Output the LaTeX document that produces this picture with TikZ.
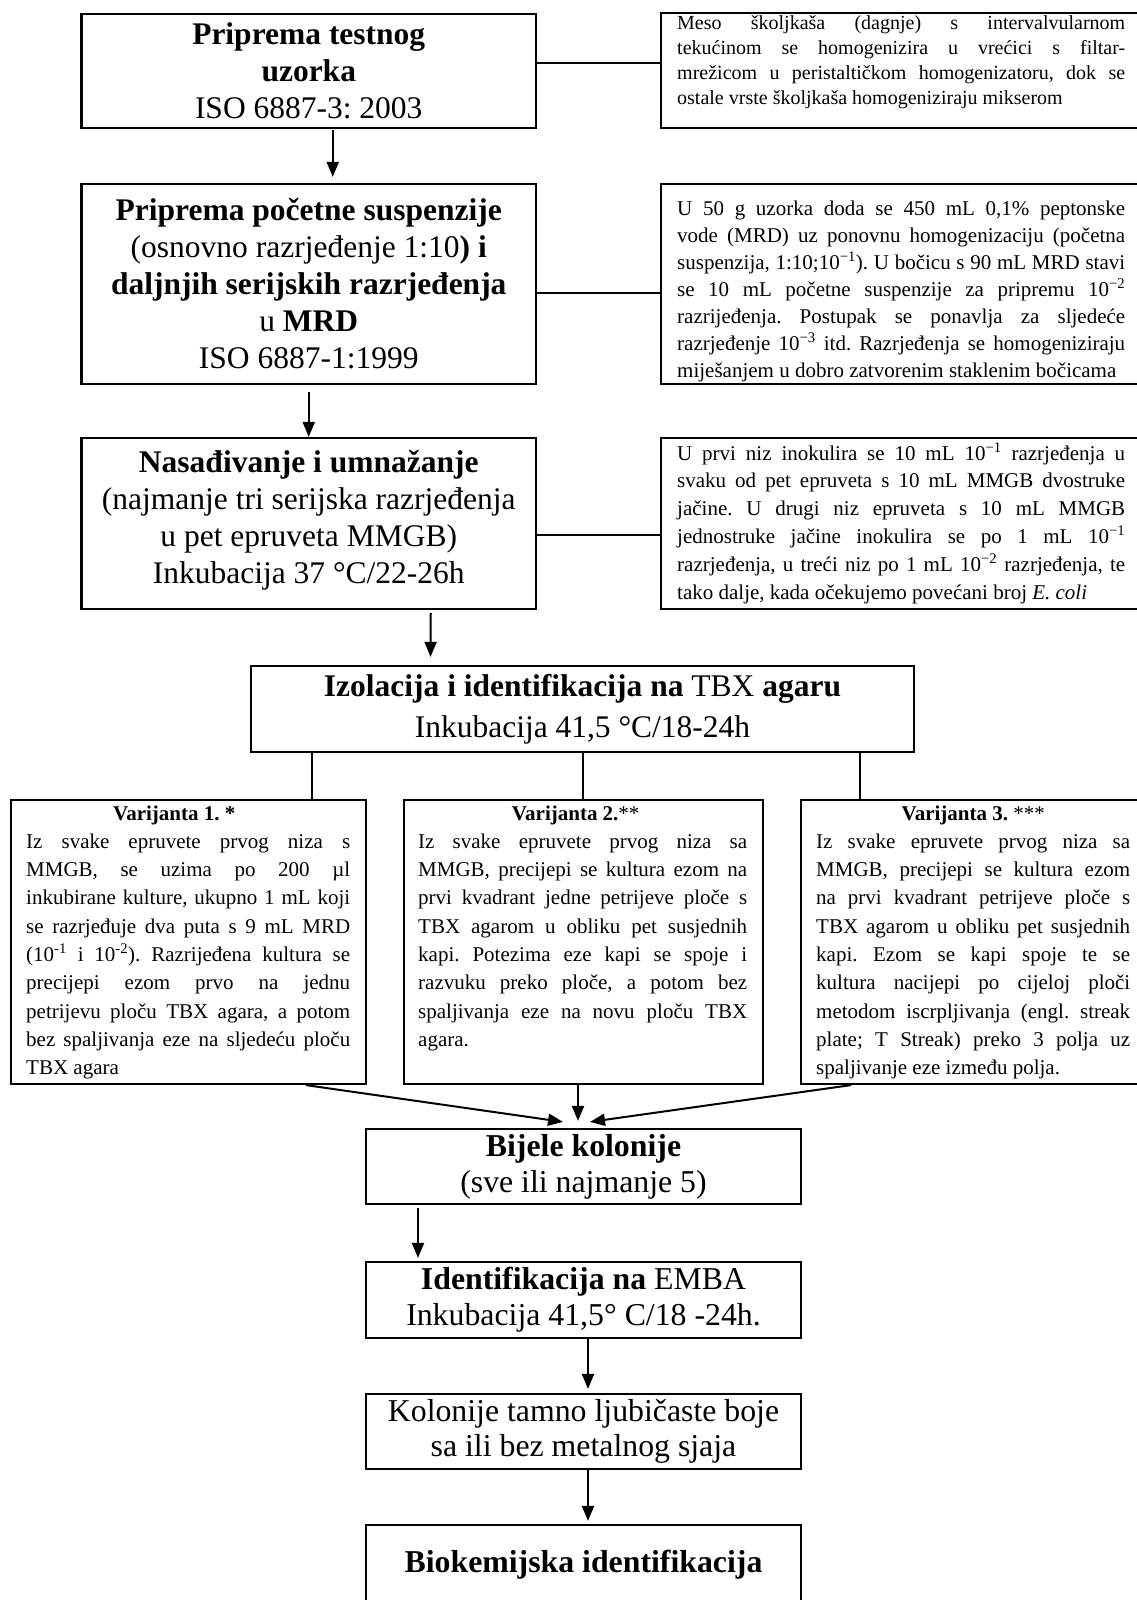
\documentclass[tikz,border=0pt]{standalone}
\usepackage{fontspec}
\setmainfont{Liberation Serif}
\usetikzlibrary{arrows.meta}
\frenchspacing
\newcommand\jl[1]{\hbox to\hsize{#1}}
\newcommand\jlast[1]{\hbox to\hsize{#1\hfil}}
\newcommand\jtitle[1]{\hbox to\hsize{\hfil#1\hfil}}
\newcommand\supm[1]{\textsuperscript{#1}}
\begin{document}
\frenchspacing
\begin{tikzpicture}[x=1pt,y=-1pt,
  box/.style={draw, line width=2.2pt, inner sep=0pt},
  big/.style={font=\fontsize{31.5}{37}\selectfont, align=center},
  low/.style={font=\fontsize{31.8}{36}\selectfont, align=center},
  small/.style={inner sep=0pt, anchor=base west},
  conn/.style={line width=2pt},
  arr/.style={line width=2pt, -{Triangle[length=15pt,width=12pt]}}]

\fill[white] (0,0) rectangle (1137,1600);
\useasboundingbox (0,0) rectangle (1137,1600);

% ---- row 1
\node[box,big,minimum width=454.5pt,minimum height=114pt] (b1) at (308.75,71)
  {\textbf{Priprema testnog}\\\textbf{uzorka}\\ISO 6887-3: 2003};
\node[box,minimum width=481pt,minimum height=115pt] (r1) at (901.5,70.5) {};
\node[small,font=\fontsize{20}{25}\selectfont] (r1t) at (677,30)
  {\vtop{\hsize=448pt\baselineskip=25pt
   \jl{Meso školjkaša (dagnje) s intervalvularnom}
   \jl{tekućinom se homogenizira u vrećici s filtar-}
   \jl{mrežicom u peristaltičkom homogenizatoru, dok se}
   \jlast{ostale vrste školjkaša homogeniziraju mikserom}}};

% ---- row 2
\node[box,big,minimum width=454.5pt,minimum height=200pt] (b2) at (308.75,284)
  {\textbf{Priprema početne suspenzije}\\(osnovno razrjeđenje 1:10\textbf{) i}\\\textbf{daljnjih serijskih razrjeđenja}\\u \textbf{MRD}\\ISO 6887-1:1999};
\node[box,minimum width=481pt,minimum height=200pt] (r2) at (901.5,284) {};
\node[small,font=\fontsize{21}{27}\selectfont] (r2t) at (677,215)
  {\vtop{\hsize=448pt\baselineskip=27pt
   \jl{U 50 g uzorka doda se 450 mL 0,1\% peptonske}
   \jl{vode (MRD) uz ponovnu homogenizaciju (početna}
   \jl{suspenzija, 1:10;10\supm{−1}). U bočicu s 90 mL MRD stavi}
   \jl{se 10 mL početne suspenzije za pripremu 10\supm{−2}}
   \jl{razrijeđenja. Postupak se ponavlja za sljedeće}
   \jl{razrjeđenje 10\supm{−3} itd. Razrjeđenja se homogeniziraju}
   \jlast{miješanjem u dobro zatvorenim staklenim bočicama}}};

% ---- row 3
\node[box,big,minimum width=454.5pt,minimum height=171pt] (b3) at (308.75,523.5)
  {\textbf{Nasađivanje i umnažanje}\\(najmanje tri serijska razrjeđenja\\u pet epruveta MMGB)\\Inkubacija 37 °C/22-26h\rule[-13pt]{0pt}{13pt}};
\node[box,minimum width=481pt,minimum height=171pt] (r3) at (901.5,523.5) {};
\node[small,font=\fontsize{21}{27.8}\selectfont] (r3t) at (677,460)
  {\vtop{\hsize=448pt\baselineskip=27.8pt
   \jl{U prvi niz inokulira se 10 mL 10\supm{−1} razrjeđenja u}
   \jl{svaku od pet epruveta s 10 mL MMGB dvostruke}
   \jl{jačine. U drugi niz epruveta s 10 mL MMGB}
   \jl{jednostruke jačine inokulira se po 1 mL 10\supm{−1}}
   \jl{razrjeđenja, u treći niz po 1 mL 10\supm{−2} razrjeđenja, te}
   \jlast{tako dalje, kada očekujemo povećani broj \textit{E. coli}}}};

% ---- TBX
\node[box,font=\fontsize{31.5}{41}\selectfont,align=center,minimum width=663pt,minimum height=86pt] (tbx) at (582.5,709)
  {\textbf{Izolacija i identifikacija na} TBX \textbf{agaru}\\Inkubacija 41,5 °C/18-24h};

% ---- variants
\node[box,minimum width=355.3pt,minimum height=284pt] (v1) at (188.35,942) {};
\node[small,font=\fontsize{21}{28.3}\selectfont] (v1t) at (26,820)
  {\vtop{\hsize=324pt\baselineskip=28.3pt
   \jtitle{\textbf{Varijanta 1. *}\hspace{28pt}}
   \jl{Iz svake epruvete prvog niza s}
   \jl{MMGB, se uzima po 200 µl}
   \jl{inkubirane kulture, ukupno 1 mL koji}
   \jl{se razrjeđuje dva puta s 9 mL MRD}
   \jl{(10\supm{-1} i 10\supm{-2}). Razrijeđena kultura se}
   \jl{precijepi ezom prvo na jednu}
   \jl{petrijevu ploču TBX agara, a potom}
   \jl{bez spaljivanja eze na sljedeću ploču}
   \jlast{TBX agara}}};

\node[box,minimum width=359pt,minimum height=284pt] (v2) at (583.5,942) {};
\node[small,font=\fontsize{21}{28.3}\selectfont] (v2t) at (418,820)
  {\vtop{\hsize=329pt\baselineskip=28.3pt
   \jtitle{\textbf{Varijanta 2.}**\hspace{14pt}}
   \jl{Iz svake epruvete prvog niza sa}
   \jl{MMGB, precijepi se kultura ezom na}
   \jl{prvi kvadrant jedne petrijeve ploče s}
   \jl{TBX agarom u obliku pet susjednih}
   \jl{kapi. Potezima eze kapi se spoje i}
   \jl{razvuku preko ploče, a potom bez}
   \jl{spaljivanja eze na novu ploču TBX}
   \jlast{agara.}}};

\node[box,minimum width=344pt,minimum height=284pt] (v3) at (973,942) {};
\node[small,font=\fontsize{21}{28.3}\selectfont] (v3t) at (816,820)
  {\vtop{\hsize=314pt\baselineskip=28.3pt
   \jtitle{\textbf{Varijanta 3.} ***}
   \jl{Iz svake epruvete prvog niza sa}
   \jl{MMGB, precijepi se kultura ezom}
   \jl{na prvi kvadrant petrijeve ploče s}
   \jl{TBX agarom u obliku pet susjednih}
   \jl{kapi. Ezom se kapi spoje te se}
   \jl{kultura nacijepi po cijeloj ploči}
   \jl{metodom iscrpljivanja (engl. streak}
   \jl{plate; T Streak) preko 3 polja uz}
   \jlast{spaljivanje eze između polja.}}};

% ---- lower chain
\node[box,low,minimum width=435pt,minimum height=75pt] (bij) at (583.5,1166.5)
  {\textbf{Bijele kolonije}\\(sve ili najmanje 5)};
\node[box,low,minimum width=435pt,minimum height=76pt] (emba) at (583.5,1300)
  {\textbf{Identifikacija na} EMBA\\Inkubacija 41,5° C/18 -24h.};
\node[box,low,font=\fontsize{31.8}{35}\selectfont,minimum width=435pt,minimum height=75pt] (kol) at (583.5,1431.5)
  {Kolonije tamno ljubičaste boje\\sa ili bez metalnog sjaja};
\node[box,low,minimum width=435pt,minimum height=80pt] (bio) at (583.5,1565)
  {\textbf{Biokemijska identifikacija}};

% ---- side lines
\coordinate (l1) at ([yshift=8pt]b1.east);
\draw[conn] (l1) -- (l1 -| r1.west);
\coordinate (l2) at ([yshift=-9pt]b2.east);
\draw[conn] (l2) -- (l2 -| r2.west);
\coordinate (l3) at ([yshift=-11.5pt]b3.east);
\draw[conn] (l3) -- (l3 -| r3.west);

% ---- arrows down the left column
\draw[arr] ([xshift=24pt,yshift=-1pt]b1.south) -- ([xshift=24pt,yshift=6pt]b2.north);
\draw[arr] ([yshift=-7pt]b2.south) -- (b3.north);
\draw[arr] ([xshift=122pt,yshift=-3pt]b3.south) -- ([xshift=-152pt,yshift=8pt]tbx.north);

% ---- TBX to variants
\coordinate (t1) at ([xshift=-270.5pt]tbx.south);
\draw[conn] (t1) -- (t1 |- v1.north);
\draw[conn] (tbx.south) -- (tbx.south |- v2.north);
\coordinate (t3) at ([xshift=277.5pt]tbx.south);
\draw[conn] (t3) -- (t3 |- v3.north);

% ---- variants to Bijele kolonije
\draw[arr] ([xshift=117.65pt]v1.south) -- ([xshift=-20.5pt,yshift=6pt]bij.north);
\draw[arr] ([xshift=-5.5pt]v2.south) -- ([xshift=-5.5pt,yshift=7pt]bij.north);
\draw[arr] ([xshift=-122pt]v3.south) -- ([xshift=6.5pt,yshift=6pt]bij.north);

% ---- lower chain arrows
\draw[arr] ([xshift=-165.5pt,yshift=-3pt]bij.south) -- ([xshift=-165.5pt,yshift=3pt]emba.north);
\draw[arr] ([xshift=4.5pt]emba.south) -- ([xshift=4.5pt,yshift=4pt]kol.north);
\draw[arr] ([xshift=4.5pt]kol.south) -- ([xshift=4.5pt,yshift=3pt]bio.north);
\end{tikzpicture}
\end{document}
